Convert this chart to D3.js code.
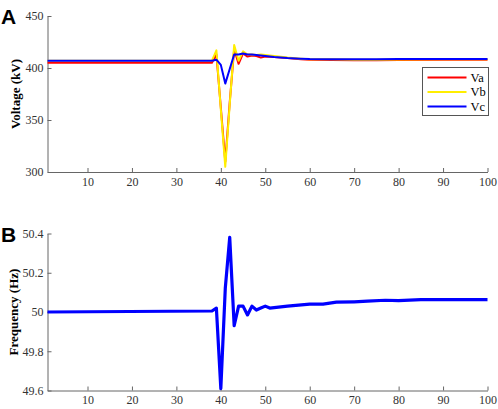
<html>
<head>
    <meta charset="utf-8">
    <script src="https://d3js.org/d3.v7.min.js"></script>
    <style>
        body { margin: 0; padding: 0; background: #fff; }
        .tick text { font-family: "Liberation Serif", "Times New Roman", serif; font-size: 12px; fill: #333; }
        .domain, .tick line { stroke: #666; }
    </style>
</head>
<body>
    <svg width="498" height="409"></svg>
    <script>
        // voltage panel (A)
        const vTime = [1, 38, 39, 40, 41, 42, 43, 44, 45, 46, 47, 48, 49, 50, 52, 55, 58, 60, 65, 70, 75, 80, 90, 100];
        const va = [405, 405, 413, 362, 310, 367, 418, 404, 414, 411, 412, 411.5, 410, 411, 410.5, 409.5, 408.5, 408, 407.8, 407.5, 407.5, 407.8, 408, 408];
        const vb = [407, 407, 417, 360, 305, 365, 422, 407, 416, 413, 413, 412.5, 413, 412.5, 411.5, 410, 409, 408.5, 408.3, 408, 408, 408.2, 408.3, 408.3];
        const vc = [407, 407, 408, 403, 385, 399, 413, 413, 414, 413, 413, 412.5, 412, 411.5, 410.5, 409.5, 409, 408.7, 408.5, 408.5, 408.5, 408.6, 408.7, 408.7];
        const seriesNames = ['Va', 'Vb', 'Vc'];
        const seriesColors = ['#ff0000', '#ffee00', '#0000ff'];

        // frequency panel (B)
        const fTime = [1, 38, 39, 40, 41, 42, 43, 44, 45, 46, 47, 48, 49, 50, 51, 53, 55, 60, 63, 66, 70, 73, 77, 80, 85, 90, 100];
        const freq = [50.0, 50.005, 50.02, 49.61, 50.12, 50.38, 49.93, 50.03, 50.03, 49.985, 50.03, 50.01, 50.02, 50.03, 50.02, 50.025, 50.03, 50.04, 50.04, 50.05, 50.052, 50.055, 50.06, 50.058, 50.063, 50.063, 50.063];

        const xTicks = [10, 20, 30, 40, 50, 60, 70, 80, 90, 100];
        const vTicks = [300, 350, 400, 450];
        const fTicks = [49.6, 49.8, 50, 50.2, 50.4];

        const svg = d3.select('svg');

        const x = d3.scaleLinear().domain([1, 100]).range([47.5, 487.5]);

        function panel(top, bottom, yDomain, yTicks, yTitle, letter, titleX) {
            const y = d3.scaleLinear().domain(yDomain).range([bottom, top]);
            svg.append('g')
                .attr('transform', `translate(0, ${bottom})`)
                .call(d3.axisBottom(x).tickValues(xTicks).tickSizeInner(-4).tickSizeOuter(0).tickPadding(5));
            svg.append('g')
                .attr('transform', `translate(${x.range()[0]}, 0)`)
                .call(d3.axisLeft(y).tickValues(yTicks).tickSizeInner(-4).tickSizeOuter(0).tickPadding(4)
                    .tickFormat(d3.format('~g')));
            svg.append('text')
                .attr('transform', `translate(${titleX}, ${(top + bottom) / 2}) rotate(-90)`)
                .attr('text-anchor', 'middle')
                .attr('dy', '0.35em')
                .style('font-family', '"Liberation Serif", "Times New Roman", serif')
                .style('font-weight', 'bold')
                .style('font-size', '13px')
                .text(yTitle);
            svg.append('text')
                .attr('x', 1)
                .attr('y', top + 8)
                .style('font-family', '"Liberation Sans", Arial, sans-serif')
                .style('font-weight', 'bold')
                .style('font-size', '21px')
                .text(letter);
            return y;
        }

        const yV = panel(16, 172, [300, 450], vTicks, 'Voltage (kV)', 'A', 15);
        const yF = panel(233.5, 390.5, [49.6, 50.4], fTicks, 'Frequency (Hz)', 'B', 13);

        // Vb sits under Vc before the fault
        const vLine = d3.line().x((d, i) => x(vTime[i])).y(d => yV(d));
        [va, vb, vc].forEach((vals, k) => {
            svg.append('path')
                .datum(vals)
                .attr('d', vLine)
                .attr('fill', 'none')
                .attr('stroke', seriesColors[k])
                .attr('stroke-width', 2)
                .attr('stroke-linejoin', 'round');
        });

        const fLine = d3.line().x((d, i) => x(fTime[i])).y(d => yF(d));
        svg.append('path')
            .datum(freq)
            .attr('d', fLine)
            .attr('fill', 'none')
            .attr('stroke', '#0000ff')
            .attr('stroke-width', 3.2)
            .attr('stroke-linejoin', 'round');

        // legend
        const lg = svg.append('g').attr('transform', 'translate(422.5, 67.5)');
        lg.append('rect')
            .attr('width', 66).attr('height', 48)
            .attr('fill', '#fff').attr('stroke', '#555').attr('stroke-width', 1);
        seriesNames.forEach((n, i) => {
            const yy = 10 + i * 14.5;
            lg.append('line')
                .attr('x1', 5).attr('x2', 44).attr('y1', yy).attr('y2', yy)
                .attr('stroke', seriesColors[i]).attr('stroke-width', 2);
            lg.append('text')
                .attr('x', 48).attr('y', yy).attr('dy', '0.35em')
                .style('font-family', '"Liberation Serif", "Times New Roman", serif')
                .style('font-size', '12.5px')
                .text(n);
        });
    </script>
</body>
</html>
